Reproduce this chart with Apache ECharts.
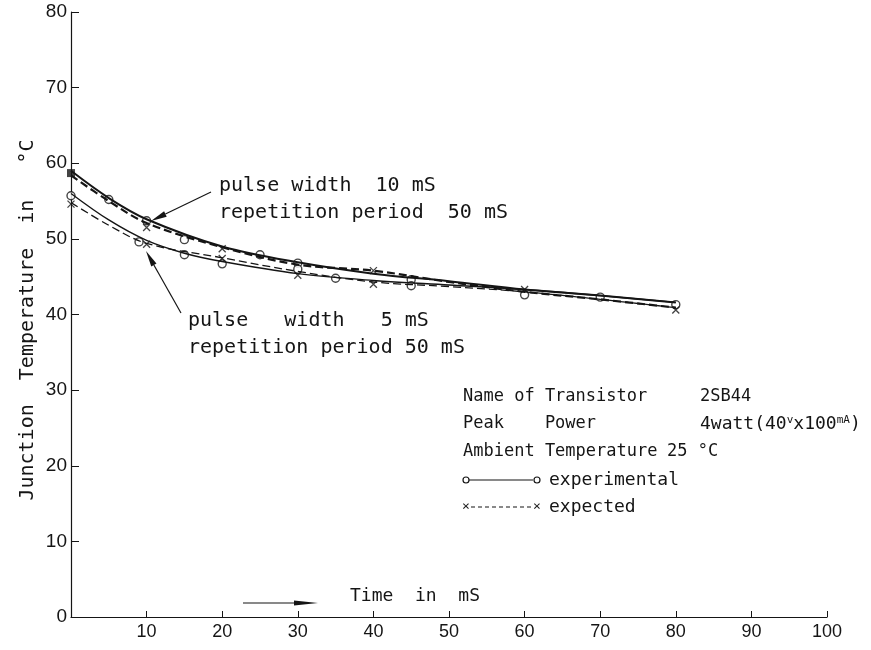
<!DOCTYPE html>
<html>
<head>
<meta charset="utf-8">
<script src="https://cdn.jsdelivr.net/npm/echarts@6/dist/echarts.min.js"></script>
<style>
  html, body { margin: 0; padding: 0; background: #fff; }
  #chart { width: 871px; height: 650px; }
</style>
</head>
<body>
<div id="chart"></div>
<script>
// curves: [time mS, temperature C]
const upperSolid  = [[0,59.0],[5,55.4],[10,52.6],[20,49.0],[30,46.9],[40,45.4],[50,44.4],[60,43.3],[70,42.5],[80,41.6]];
const upperDashed = [[0,58.4],[5,55.0],[10,52.1],[20,48.9],[30,46.6],[40,45.8],[50,44.3],[60,43.0],[70,42.0],[80,40.9]];
const lowerSolid  = [[0,56.0],[5,52.5],[10,49.8],[15,48.1],[20,47.0],[30,45.4],[40,44.5],[50,43.9],[60,43.3],[70,42.5],[80,41.6]];
const lowerDashed = [[0,54.8],[5,51.8],[10,49.4],[20,47.5],[30,45.7],[40,44.3],[50,43.7],[60,43.0],[70,42.0],[80,40.9]];

// measured points
const startSquare = [[0,58.7]];
const expCircles  = [[5,55.2],[10,52.4],[15,49.9],[25,47.9],[30,46.8],[45,44.6],
                     [0,55.7],[9,49.6],[15,47.9],[20,46.7],[30,46.0],[35,44.8],[45,43.8],
                     [60,42.6],[70,42.3],[80,41.3]];
const expCrosses  = [[10,51.5],[20,48.7],[40,45.8],[0,54.6],[10,49.3],[20,47.4],[30,45.2],[40,44.0],
                     [60,43.3],[80,40.6]];

const xTicks = { min: 0, max: 100, interval: 10 };
const yTicks = { min: 0, max: 80, interval: 10 };

const font = 'DejaVu Sans Mono';
const ink = '#151515';
const crossPath = 'path://M0,0L10,10M10,0L0,10';

function arrow(x1, y1, x2, y2, head, w) {
  const dx = x2 - x1, dy = y2 - y1;
  const len = Math.sqrt(dx * dx + dy * dy);
  const ux = dx / len, uy = dy / len;
  const bx = x2 - ux * head, by = y2 - uy * head;
  return [
    { type: 'line', shape: { x1: x1, y1: y1, x2: bx, y2: by }, style: { stroke: ink, lineWidth: 1.2 } },
    { type: 'polygon', shape: { points: [[x2, y2], [bx - uy * w, by + ux * w], [bx + uy * w, by - ux * w]] },
      style: { fill: ink } }
  ];
}

function txt(x, y, s, size) {
  return { type: 'text', x: x, y: y,
    style: { text: s, font: (size || 17) + 'px "' + font + '"', fill: ink, textVerticalAlign: 'middle' } };
}

const chart = echarts.init(document.getElementById('chart'));

const lineSeries = (data, dashed, width) => ({
  type: 'line', data: data, smooth: 0.35, showSymbol: false, silent: true,
  lineStyle: { color: ink, width: width, type: dashed ? [8, 4] : 'solid' }
});

chart.setOption({
  animation: false,
  backgroundColor: '#fff',
  grid: { left: 71, right: 44, top: 12, bottom: 33 },
  xAxis: {
    type: 'value', min: xTicks.min, max: xTicks.max, interval: xTicks.interval,
    splitLine: { show: false },
    axisLine: { lineStyle: { color: ink, width: 1.2 } },
    axisTick: { inside: true, length: 6, lineStyle: { color: ink } },
    axisLabel: { showMinLabel: false, color: ink, fontSize: 18, fontFamily: 'Liberation Sans', margin: 6 }
  },
  yAxis: {
    type: 'value', min: yTicks.min, max: yTicks.max, interval: yTicks.interval,
    splitLine: { show: false },
    axisLine: { show: true, lineStyle: { color: ink, width: 1.2 } },
    axisTick: { show: true, inside: true, length: 8, lineStyle: { color: ink } },
    axisLabel: { color: ink, fontSize: 19, fontFamily: 'Liberation Sans', margin: 4 }
  },
  series: [
    lineSeries(upperSolid, false, 2),
    lineSeries(upperDashed, true, 2.2),
    lineSeries(lowerSolid, false, 1.4),
    lineSeries(lowerDashed, true, 1.3),
    { type: 'scatter', data: expCircles, symbol: 'circle', symbolSize: 8,
      itemStyle: { color: '#fff', borderColor: ink, borderWidth: 1.4 } },
    { type: 'scatter', data: expCrosses, symbol: crossPath, symbolSize: 7,
      itemStyle: { color: 'none', borderColor: ink, borderWidth: 1.3 } },
    { type: 'scatter', data: startSquare, symbol: 'rect', symbolSize: 8,
      itemStyle: { color: ink } }
  ],
  graphic: [
    { type: 'text', x: 28, y: 320, rotation: Math.PI / 2,
      style: { text: 'Junction  Temperature  in   \u00B0C', font: '20px "' + font + '"', fill: ink,
        textAlign: 'center', textVerticalAlign: 'middle' } },
    txt(219, 186, 'pulse width  10 mS', 20),
    txt(219, 213, 'repetition period  50 mS', 20),
    txt(188, 321, 'pulse   width   5 mS', 20),
    txt(188, 348, 'repetition period 50 mS', 20),
    ...arrow(211, 192, 151, 221, 16, 3),
    ...arrow(181, 313, 146, 251, 16, 3),
    ...arrow(243, 603, 318, 603, 24, 2.5),
    txt(350, 596, 'Time  in  mS', 18),
    txt(463, 397, 'Name of Transistor'),
    txt(700, 397, '2SB44'),
    txt(463, 424, 'Peak    Power'),
    { type: 'text', x: 700, y: 424,
      style: { text: '{a|4watt(40}{s|v}{a|x100}{s|mA}{a|)}', textVerticalAlign: 'middle',
        rich: { a: { font: '18px "' + font + '"', fill: ink },
                s: { font: '11px "' + font + '"', fill: ink, verticalAlign: 'top' } } } },
    txt(463, 452, 'Ambient Temperature'),
    txt(667, 452, '25 \u00B0C'),
    { type: 'line', shape: { x1: 469, y1: 480, x2: 533, y2: 480 }, style: { stroke: ink, lineWidth: 1.2 } },
    { type: 'circle', shape: { cx: 466, cy: 480, r: 3 }, style: { fill: '#fff', stroke: ink, lineWidth: 1.2 } },
    { type: 'circle', shape: { cx: 537, cy: 480, r: 3 }, style: { fill: '#fff', stroke: ink, lineWidth: 1.2 } },
    txt(549, 480, 'experimental', 18),
    { type: 'line', shape: { x1: 471, y1: 507, x2: 532, y2: 507 }, style: { stroke: ink, lineWidth: 1.1, lineDash: [4, 3] } },
    { type: 'text', x: 466, y: 507, style: { text: '\u00D7', font: '13px "' + font + '"', fill: ink, textAlign: 'center', textVerticalAlign: 'middle' } },
    { type: 'text', x: 537, y: 507, style: { text: '\u00D7', font: '13px "' + font + '"', fill: ink, textAlign: 'center', textVerticalAlign: 'middle' } },
    txt(549, 507, 'expected', 18)
  ]
});

window.addEventListener('resize', function () {
  chart.resize();
});
</script>
</body>
</html>
